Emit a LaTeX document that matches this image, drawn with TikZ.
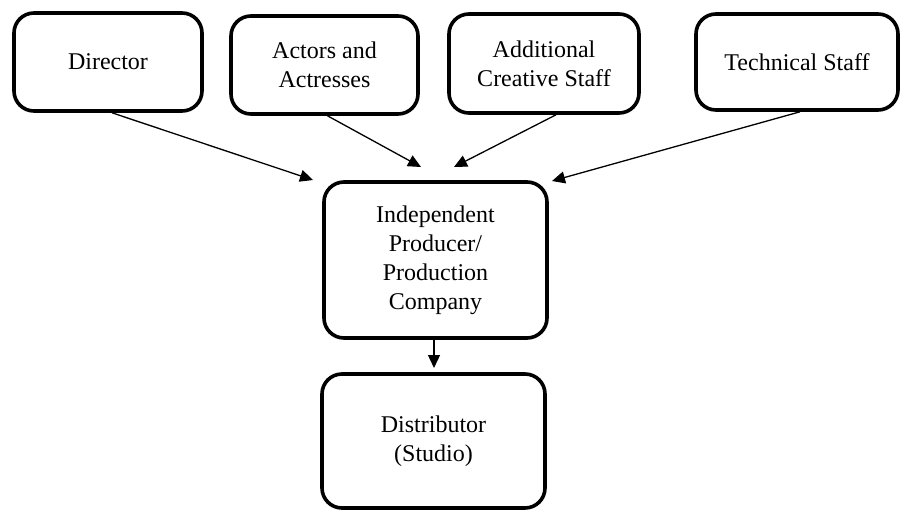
\documentclass[tikz,border=0pt]{standalone}
\usepackage{fontspec}
\setmainfont{Liberation Serif}
\usetikzlibrary{arrows.meta,calc}
\begin{document}
\begin{tikzpicture}[x=1pt,y=-1pt,
  box/.style={draw=black,line width=3.6pt,rounded corners=20pt,inner sep=0pt,align=center,font=\fontsize{24}{29}\selectfont,fill=white},
  conn/.style={line width=1.3pt,-{Triangle[length=13pt,width=12pt]}}]
\useasboundingbox[fill=white] (0,0) rectangle (906,512);
\node[box,minimum width=188pt,minimum height=98pt] (dir) at (108,62) {Director};
\node[box,minimum width=187pt,minimum height=98pt] (act) at (324.5,65) {Actors and\\Actresses};
\node[box,minimum width=190pt,minimum height=99pt] (add) at (544,63.5) {Additional\\Creative Staff};
\node[box,minimum width=202pt,minimum height=96pt] (tec) at (797,62) {Technical Staff};
\node[box,minimum width=223pt,minimum height=156pt] (ind) at (435.5,260) {Independent\\Producer/\\Production\\Company};
\node[box,minimum width=223pt,minimum height=134pt] (dis) at (433.5,441) {Distributor\\(Studio)};
\coordinate (e1) at (313,180);
\coordinate (e2) at (421,167);
\coordinate (e3) at (454,167);
\coordinate (e4) at (552,181);
\coordinate (e5) at (434,368);
\draw[conn] ($(dir.south)+(4,0)$) -- (e1);
\draw[conn] ($(act.south)+(3,0)$) -- (e2);
\draw[conn] ($(add.south)+(12,0)$) -- (e3);
\draw[conn] ($(tec.south)+(3,0)$) -- (e4);
\draw[conn] ($(ind.south)+(-1.5,0)$) -- (e5);
\end{tikzpicture}
\end{document}
